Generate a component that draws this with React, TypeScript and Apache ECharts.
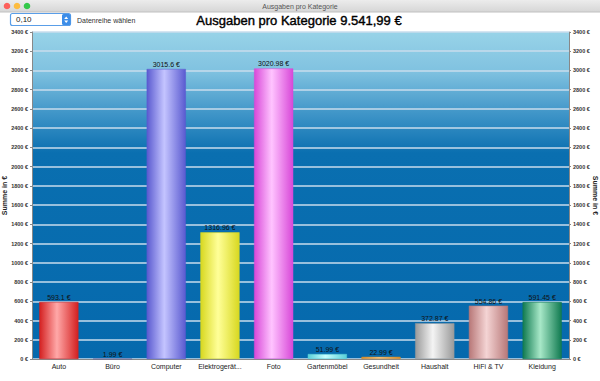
import React, { useEffect, useRef } from "react";
import * as echarts from "echarts";

const categories = ["Auto", "Büro", "Computer", "Elektrogerät...", "Foto", "Gartenmöbel", "Gesundheit", "Haushalt", "HiFi & TV", "Kleidung"];
const values = [593.1, 1.99, 3015.6, 1316.96, 3020.98, 51.99, 22.99, 372.87, 554.86, 591.45];
const labels = ["593.1 €", "1.99 €", "3015.6 €", "1316.96 €", "3020.98 €", "51.99 €", "22.99 €", "372.87 €", "554.86 €", "591.45 €"];
// [edge, center] colours per bar
const barColors: [string, string][] = [
  ["#d42020", "#ffa8a8"],
  ["#6060a0", "#b0b0e0"],
  ["#5a5ad0", "#c4c4ff"],
  ["#d8d820", "#ffff98"],
  ["#d848d8", "#ffc4ff"],
  ["#58d0d8", "#c8ffff"],
  ["#d08a28", "#ffd090"],
  ["#9a9a9a", "#f4f4f4"],
  ["#b87878", "#f4d4d4"],
  ["#107a50", "#a8e8c8"],
];
const titleText = "Ausgaben pro Kategorie 9.541,99 €";

export default function App() {
  const ref = useRef<HTMLDivElement>(null);
  useEffect(() => {
    document.body.style.margin = "0";
    const chart = echarts.init(ref.current!, null, { renderer: "svg" });
    const font = "Liberation Sans, Arial, sans-serif";
    const yLabel = (v: number) => `${v} €`;
    chart.setOption({
      animation: false,
      backgroundColor: "#ffffff",
      textStyle: { fontFamily: font },
      graphic: [
        {
          type: "rect",
          shape: { x: 0, y: 0, width: 600, height: 12 },
          style: {
            fill: new echarts.graphic.LinearGradient(0, 0, 0, 1, [
              { offset: 0, color: "#ececec" },
              { offset: 1, color: "#d6d6d6" },
            ]),
          },
        },
        { type: "line", shape: { x1: 0, y1: 12, x2: 600, y2: 12 }, style: { stroke: "#c0c0c0", lineWidth: 1 } },
        { type: "circle", shape: { cx: 7, cy: 6, r: 3.3 }, style: { fill: "#fc605b" } },
        { type: "circle", shape: { cx: 17, cy: 6, r: 3.3 }, style: { fill: "#fdbc40" } },
        { type: "circle", shape: { cx: 27, cy: 6, r: 3.3 }, style: { fill: "#34c84a" } },
        {
          type: "text",
          x: 300,
          y: 6,
          style: { text: "Ausgaben pro Kategorie", fontSize: 7, fill: "#555", align: "center", verticalAlign: "middle", fontFamily: font },
        },
        {
          type: "rect",
          shape: { x: 10.5, y: 13.5, width: 60, height: 12, r: 2 },
          style: { fill: "#fff", stroke: "#5a9ee8", lineWidth: 1.2 },
        },
        {
          type: "rect",
          shape: { x: 62, y: 14, width: 8.5, height: 11, r: 1.5 },
          style: { fill: "#3d8de8" },
        },
        { type: "polygon", shape: { points: [[64.2, 19], [66.2, 16.5], [68.2, 19]] }, style: { fill: "#fff" } },
        { type: "polygon", shape: { points: [[64.2, 20.5], [66.2, 23], [68.2, 20.5]] }, style: { fill: "#fff" } },
        {
          type: "text",
          x: 16,
          y: 19.5,
          style: { text: "0,10", fontSize: 8, fill: "#222", verticalAlign: "middle", fontFamily: font },
        },
        {
          type: "text",
          x: 77,
          y: 20,
          style: { text: "Datenreihe wählen", fontSize: 7, fill: "#333", verticalAlign: "middle", fontFamily: font },
        },
        {
          type: "text",
          x: 299,
          y: 20,
          style: {
            text: titleText,
            fontSize: 13,
            fontWeight: "normal",
            fill: "#000",
            stroke: "#000",
            lineWidth: 0.4,
            align: "center",
            verticalAlign: "middle",
            fontFamily: font,
          },
        },
      ],
      grid: {
        left: 32,
        right: 31,
        top: 32,
        bottom: 22,
        containLabel: false,
        outerBoundsMode: "none",
        show: true,
        borderWidth: 0,
        backgroundColor: new echarts.graphic.LinearGradient(0, 0, 0, 1, [
          { offset: 0, color: "#98d3e8" },
          { offset: 0.12, color: "#80c2e0" },
          { offset: 0.25, color: "#3f95c8" },
          { offset: 0.37, color: "#0a6fb0" },
          { offset: 1, color: "#0569ad" },
        ]),
      },
      xAxis: {
        type: "category",
        data: categories,
        axisLine: { show: true, lineStyle: { color: "#888", width: 1 } },
        axisTick: { show: false },
        axisLabel: { fontSize: 7, color: "#1a1a1a", margin: 4, interval: 0 },
      },
      yAxis: [
        {
          type: "value",
          min: 0,
          max: 3400,
          interval: 200,
          position: "left",
          name: "Summe in €",
          nameLocation: "middle",
          nameRotate: 90,
          nameGap: 24,
          nameMoveOverlap: false,
          nameTextStyle: { fontSize: 7, color: "#222", fontWeight: "bold" },
          axisLine: { show: true, lineStyle: { color: "#888" } },
          axisTick: { show: true, length: 2, lineStyle: { color: "#888" } },
          axisLabel: { formatter: yLabel, fontSize: 5.5, color: "#333", fontWeight: "bold", margin: 4 },
          splitLine: { show: true, lineStyle: { color: "#c9dcec", width: 1.6 } },
        },
        {
          type: "value",
          min: 0,
          max: 3400,
          interval: 200,
          position: "right",
          name: "Summe in €",
          nameLocation: "middle",
          nameRotate: -90,
          nameGap: 23,
          nameMoveOverlap: false,
          nameTextStyle: { fontSize: 7, color: "#222", fontWeight: "bold" },
          axisLine: { show: true, lineStyle: { color: "#888" } },
          axisTick: { show: true, length: 2, lineStyle: { color: "#888" } },
          axisLabel: { formatter: yLabel, fontSize: 5.5, color: "#333", fontWeight: "bold", margin: 4 },
          splitLine: { show: false },
        },
      ],
      series: [
        {
          type: "bar",
          yAxisIndex: 0,
          barWidth: "73%",
          data: values.map((v, i) => ({
            value: v,
            itemStyle: {
              color: new echarts.graphic.LinearGradient(0, 0, 1, 0, [
                { offset: 0, color: barColors[i][0] },
                { offset: 0.45, color: barColors[i][1] },
                { offset: 1, color: barColors[i][0] },
              ]),
              borderColor: barColors[i][0],
              borderWidth: 0.5,
            },
          })),
          label: {
            show: true,
            position: "top",
            distance: 1,
            fontSize: 7,
            color: "#111",
            formatter: (p: any) => labels[p.dataIndex],
          },
        },
      ],
    });
    return () => chart.dispose();
  }, []);
  return <div ref={ref} style={{ width: 600, height: 381 }} />;
}
